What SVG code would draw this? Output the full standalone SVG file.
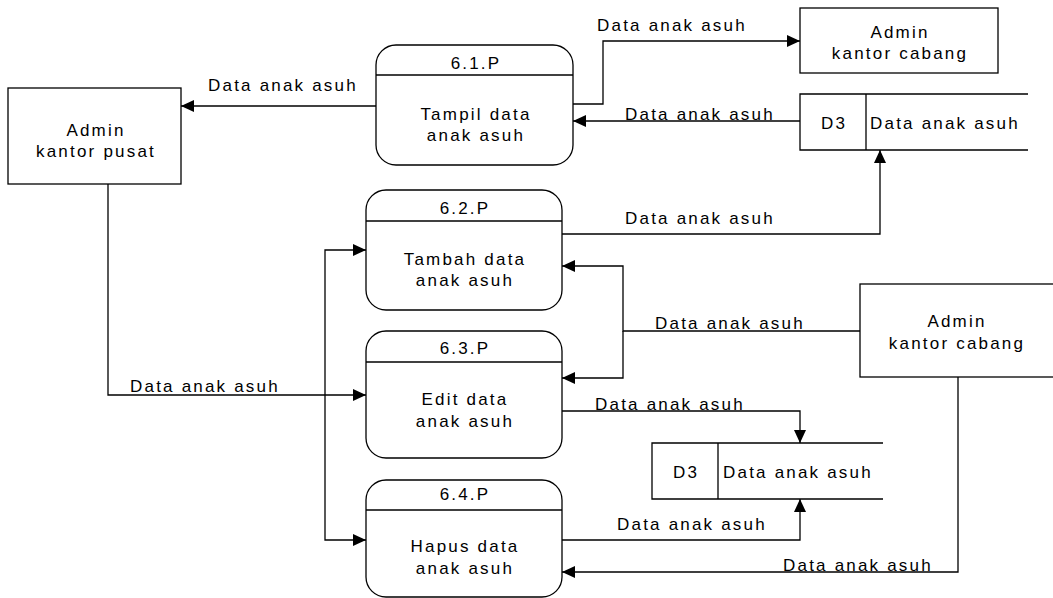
<svg xmlns="http://www.w3.org/2000/svg" width="1053" height="598" viewBox="0 0 1053 598">
<defs>
<marker id="ah" markerUnits="userSpaceOnUse" markerWidth="14" markerHeight="12" refX="13" refY="6" orient="auto">
<path d="M0,0 L13,6 L0,12 Z" fill="#000"/>
</marker>
<style>
text{font-family:"Liberation Sans",Arial,sans-serif;font-size:17px;letter-spacing:2.2px;fill:#000}
.c{text-anchor:middle}
.box{fill:#fff;stroke:#000;stroke-width:1.3}
.ln{fill:none;stroke:#000;stroke-width:1.3}
.fl{fill:none;stroke:#000;stroke-width:1.3;marker-end:url(#ah)}
</style>
</defs>
<rect width="1053" height="598" fill="#fff"/>

<g id="connectors">
<path class="fl" d="M376,106 H181"/>
<path class="fl" d="M573,104 H603 V41 H800"/>
<path class="fl" d="M800,121 H573"/>
<path class="fl" d="M562,234 H880 V150"/>
<path class="fl" d="M860,331 H623 V266 H562"/>
<path class="fl" d="M623,331 V378 H562"/>
<path class="fl" d="M108,184 V395 H366"/>
<path class="fl" d="M325,395 V250 H366"/>
<path class="fl" d="M325,395 V540 H366"/>
<path class="fl" d="M562,411 H800 V443"/>
<path class="fl" d="M562,540 H800 V499"/>
<path class="fl" d="M958,377 V572 H562"/>
<text x="208" y="91">Data anak asuh</text>
<text x="597" y="31">Data anak asuh</text>
<text x="625" y="120">Data anak asuh</text>
<text x="625" y="224">Data anak asuh</text>
<text x="655" y="329">Data anak asuh</text>
<text x="130" y="392">Data anak asuh</text>
<text x="595" y="410">Data anak asuh</text>
<text x="617" y="530">Data anak asuh</text>
<text x="783" y="571">Data anak asuh</text>
</g>

<g id="admin-pusat">
<rect class="box" x="8" y="88" width="173" height="96"/>
<text class="c" x="96" y="136">Admin</text>
<text class="c" x="96" y="157">kantor pusat</text>
</g>

<g id="p61">
<rect class="box" x="376" y="45" width="197" height="120" rx="20"/>
<line class="ln" x1="376" y1="75" x2="573" y2="75"/>
<text class="c" x="476" y="69">6.1.P</text>
<text class="c" x="476" y="120">Tampil data</text>
<text class="c" x="476" y="141">anak asuh</text>
</g>

<g id="admin-cabang-top">
<rect class="box" x="800" y="8" width="198" height="65"/>
<text class="c" x="900" y="38">Admin</text>
<text class="c" x="900" y="59">kantor cabang</text>
</g>

<g id="d3-top">
<path class="ln" d="M1028,94 H800 V150 H1028 M866,94 V150"/>
<text class="c" x="834" y="129">D3</text>
<text x="870" y="129">Data anak asuh</text>
</g>

<g id="p62">
<rect class="box" x="366" y="190" width="196" height="120" rx="20"/>
<line class="ln" x1="366" y1="221" x2="562" y2="221"/>
<text class="c" x="465" y="214">6.2.P</text>
<text class="c" x="465" y="265">Tambah data</text>
<text class="c" x="465" y="286">anak asuh</text>
</g>

<g id="p63">
<rect class="box" x="366" y="331" width="196" height="127" rx="20"/>
<line class="ln" x1="366" y1="362" x2="562" y2="362"/>
<text class="c" x="465" y="354">6.3.P</text>
<text class="c" x="465" y="405">Edit data</text>
<text class="c" x="465" y="427">anak asuh</text>
</g>

<g id="admin-cabang-right">
<rect class="box" x="860" y="284" width="200" height="93"/>
<text class="c" x="957" y="327">Admin</text>
<text class="c" x="957" y="349">kantor cabang</text>
</g>

<g id="d3-bottom">
<path class="ln" d="M883,443 H652 V499 H883 M718,443 V499"/>
<text class="c" x="686" y="478">D3</text>
<text x="723" y="478">Data anak asuh</text>
</g>

<g id="p64">
<rect class="box" x="366" y="480" width="196" height="117" rx="20"/>
<line class="ln" x1="366" y1="510" x2="562" y2="510"/>
<text class="c" x="465" y="500">6.4.P</text>
<text class="c" x="465" y="552">Hapus data</text>
<text class="c" x="465" y="574">anak asuh</text>
</g>
</svg>
